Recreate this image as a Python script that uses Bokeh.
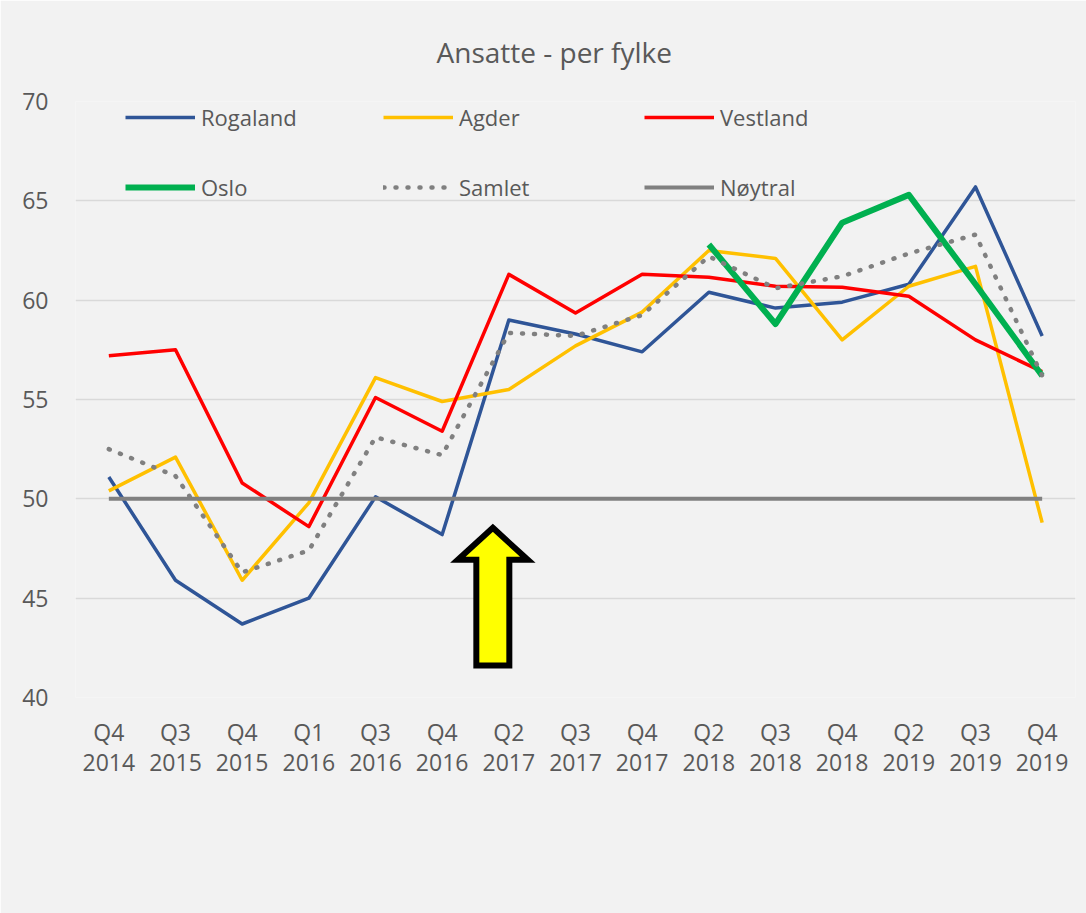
from bokeh.plotting import figure
from bokeh.models import Range1d, FixedTicker, Legend, LegendItem
from bokeh.embed import file_html
from bokeh.resources import INLINE

NAN = float("nan")

quarters = ["Q4", "Q3", "Q4", "Q1", "Q3", "Q4", "Q2", "Q3", "Q4", "Q2", "Q3", "Q4", "Q2", "Q3", "Q4"]
years = ["2014", "2015", "2015", "2016", "2016", "2016", "2017", "2017", "2017", "2018", "2018", "2018", "2019", "2019", "2019"]

rogaland = [51.1, 45.9, 43.7, 45.0, 50.1, 48.2, 59.0, 58.3, 57.4, 60.4, 59.6, 59.9, 60.8, 65.7, 58.2]
agder = [50.4, 52.1, 45.9, 49.8, 56.1, 54.9, 55.5, 57.7, 59.4, 62.5, 62.1, 58.0, 60.7, 61.7, 48.8]
vestland = [57.2, 57.5, 50.8, 48.6, 55.1, 53.4, 61.3, 59.35, 61.3, 61.15, 60.7, 60.65, 60.2, 58.0, 56.4]
oslo = [NAN, NAN, NAN, NAN, NAN, NAN, NAN, NAN, NAN, 62.8, 58.8, 63.9, 65.3, 60.8, 56.2]
samlet = [52.5, 51.15, 46.3, 47.4, 53.1, 52.2, 58.35, 58.2, 59.25, 62.2, 60.6, 61.2, 62.35, 63.3, 56.2]
noytral = [50, 50, 50, 50, 50, 50, 50, 50, 50, 50, 50, 50, 50, 50, 50]

y_ticks = [40, 45, 50, 55, 60, 65, 70]
title_text = "Ansatte - per fylke"

FONT = "Open Sans"
TXT = "#595959"
BG = "#F2F2F2"

xs = list(range(len(quarters)))

p = figure(width=1086, height=913, x_range=Range1d(-0.5, len(xs) - 0.5),
           y_range=Range1d(y_ticks[0], y_ticks[-1]),
           output_backend="svg", toolbar_location=None,
           min_border_left=75, min_border_right=11, min_border_top=100, min_border_bottom=216)
p.background_fill_color = BG
p.border_fill_color = BG
p.outline_line_color = None

p.title.text = title_text
p.title.align = "left"
p.title.offset = 361
p.title.standoff = 61
p.title.text_font = FONT
p.title.text_font_size = "28px"
p.title.text_font_style = "normal"
p.title.text_color = TXT

p.xgrid.visible = False
p.ygrid.grid_line_color = "#D9D9D9"
p.ygrid.grid_line_width = 1.5

p.yaxis.ticker = FixedTicker(ticks=y_ticks)
p.xaxis.ticker = FixedTicker(ticks=xs)
p.xaxis.major_label_overrides = {i: f"{q}\n{y}" for i, (q, y) in enumerate(zip(quarters, years))}
for ax in (p.xaxis, p.yaxis):
    ax.axis_line_color = None
    ax.major_tick_line_color = None
    ax.minor_tick_line_color = None
    ax.major_label_text_color = TXT
    ax.major_label_text_font = FONT
    ax.major_label_text_font_size = "23px"
p.xaxis.major_label_text_line_height = 0.95
p.yaxis.major_label_standoff = 21
p.xaxis.major_label_standoff = 12

r_rog = p.line(xs, rogaland, line_color="#2F5597", line_width=3.5, line_join="round")
r_agd = p.line(xs, agder, line_color="#FFC000", line_width=3.5, line_join="round")
r_ves = p.line(xs, vestland, line_color="#FF0000", line_width=3.5, line_join="round")
r_osl = p.line(xs, oslo, line_color="#00B050", line_width=6, line_join="round")
r_sam = p.line(xs, samlet, line_color="#808080", line_width=4.5, line_dash="1 11", line_cap="round")
r_noy = p.line(xs, noytral, line_color="#808080", line_width=4)

# yellow arrow annotation (between Q4 2016 and Q2 2017)
ax_c = 5.76
tip, head_base, bottom = 48.54, 46.93, 41.61
hw, sw = 0.525, 0.2475
arrow_x = [ax_c, ax_c + hw, ax_c + sw, ax_c + sw, ax_c - sw, ax_c - sw, ax_c - hw]
arrow_y = [tip, head_base, head_base, bottom, bottom, head_base, head_base]
p.patch(arrow_x, arrow_y, fill_color="#FFFF00", line_color="black", line_width=6, line_join="miter")


def make_legend(items, loc):
    lg = Legend(items=items, location=loc, orientation="vertical", spacing=40,
                glyph_width=70, glyph_height=30, label_height=30, label_standoff=6,
                padding=0, margin=0, background_fill_alpha=0, border_line_color=None,
                label_text_font=FONT, label_text_font_size="22px", label_text_color=TXT)
    p.add_layout(lg)


make_legend([LegendItem(label="Rogaland", renderers=[r_rog]), LegendItem(label="Oslo", renderers=[r_osl])], (50, 495))
make_legend([LegendItem(label="Agder", renderers=[r_agd]), LegendItem(label="Samlet", renderers=[r_sam])], (308, 495))
make_legend([LegendItem(label="Vestland", renderers=[r_ves]), LegendItem(label="Nøytral", renderers=[r_noy])], (569, 495))

open("out.html", "w").write(file_html(p, INLINE))
